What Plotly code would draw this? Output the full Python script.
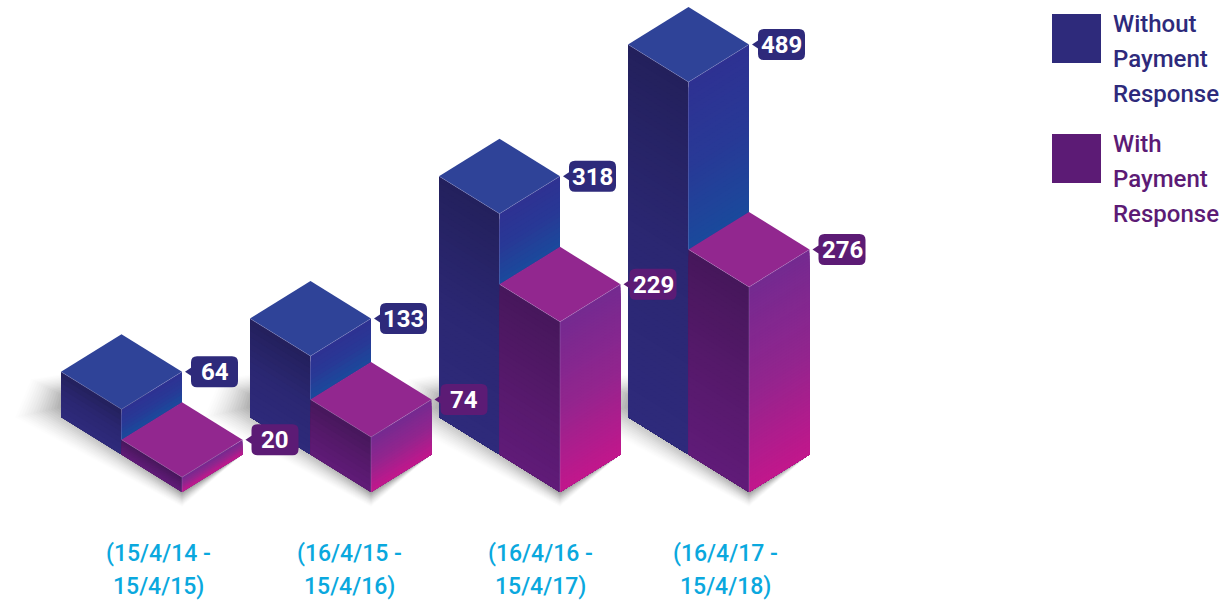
import plotly.graph_objects as go

categories = ["(15/4/14 -<br>15/4/15)", "(16/4/15 -<br>15/4/16)", "(16/4/16 -<br>15/4/17)", "(16/4/17 -<br>15/4/18)"]
without_response = [64, 133, 318, 489]
with_response = [20, 74, 229, 276]
series_names = ["Without<br>Payment<br>Response", "With<br>Payment<br>Response"]

# isometric layout
STEP, FIRST_X, GROUND = 189, 182, 108
HW, HD = 60.5, 37.5
LABEL_X = [158.5, 349.5, 540, 725.5]
BLUE, PURPLE, CYAN = "#2e2a7b", "#5c1b75", "#0aa8de"
FONT = "Roboto"


def blue_height(v):
    return 0.77 * v - 4


def purple_height(v):
    return 0.743 * v


def mix(stops, t):
    t = max(0, min(1, t))
    n = len(stops) - 1
    i = min(int(t * n), n - 1)
    f = t * n - i
    a, b = stops[i], stops[i + 1]
    return "rgb(%d,%d,%d)" % tuple(round(a[j] + (b[j] - a[j]) * f) for j in range(3))


fig = go.Figure()


def poly(xs, ys, color, name=None):
    fig.add_trace(go.Scatter(x=xs + xs[:1], y=ys + ys[:1], mode="lines", fill="toself", fillcolor=color,
                             line=dict(width=0), hoverinfo="skip", showlegend=False, name=name))


def face(fx, gy, side, top, bottom, stops, px):
    """Side face sheared along its ground edge; gradient follows the shear."""
    n = max(8, round((top - bottom) / px))
    span = top - bottom
    x0, x1 = (fx, fx + HW) if side > 0 else (fx - HW, fx)
    y0_off, y1_off = (0, HD) if side > 0 else (HD, 0)
    for k in range(n):
        lvl = top - span * k / n
        poly([x0, x1, x1, x0], [gy + y0_off + lvl, gy + y1_off + lvl, gy + y1_off + bottom, gy + y0_off + bottom],
             mix(stops, (k + 0.5) / n))


def top_face(fx, gy, h, color, name):
    y = gy + h
    poly([fx - HW, fx, fx + HW, fx], [y + HD, y + 2 * HD, y + HD, y], color, name)


def edges(fx, gy, h, bottom):
    y = gy + h
    fig.add_trace(go.Scatter(x=[fx - HW, fx, fx + HW, None, fx, fx], y=[y + HD, y, y + HD, None, y, gy + bottom],
                             mode="lines", line=dict(width=0.6, color="rgba(190,180,225,0.38)"),
                             hoverinfo="skip", showlegend=False))


# soft ground shadows: stacked translucent outlines, wider towards the left
LAYERS = 18
for i in range(len(categories)):
    fx = FIRST_X + STEP * i
    for k in range(LAYERS, 0, -1):
        u = k / LAYERS
        g = 15 * u            # outward spread
        lx = fx - 2 * HW + 8 - 54 * u
        c = 4 + 20 * u        # bluntness of the left end
        yc = GROUND + 89
        poly([lx, fx, fx + HW, fx - HW, lx + 16 * u],
             [yc - 0.6 * c, GROUND - g, GROUND + HD, GROUND + 3 * HD + g, yc + c],
             "rgba(0,0,0,%.3f)" % (0.008 + 0.034 * (1 - u)))

BL = [(0x23, 0x20, 0x5c), (0x2b, 0x27, 0x72), (0x2e, 0x2a, 0x7b)]
BR = [(0x2e, 0x31, 0x92), (0x28, 0x39, 0x96), (0x1a, 0x4a, 0x9c)]
PL = [(0x46, 0x17, 0x5b), (0x55, 0x19, 0x6a), (0x60, 0x1b, 0x78)]
PR = [(0x74, 0x2a, 0x90), (0x92, 0x25, 0x8e), (0xc2, 0x17, 0x8c)]

for i in range(len(categories)):
    fx = FIRST_X + STEP * i
    hb, hp = blue_height(without_response[i]), purple_height(with_response[i])
    bx, by = fx - HW, GROUND + HD
    face(bx, by, -1, hb, 0, BL, 6)
    face(bx, by, 1, hb, hp, BR, 5)
    top_face(bx, by, hb, "#2f4398", "Without Payment Response")
    edges(bx, by, hb, hp)
    face(fx, GROUND, -1, hp, 0, PL, 6)
    face(fx, GROUND, 1, hp, 0, PR, 3)
    top_face(fx, GROUND, hp, "#92278f", "With Payment Response")
    edges(fx, GROUND, hp, 0)


def callout(tip_x, y, text, color):
    W, H, r = 47, 31, 6
    xl = tip_x + 6
    xr, yb, yt = xl + W, y - H / 2, y + H / 2
    c = f"M{xl+r},{yt} L{xr-r},{yt} Q{xr},{yt} {xr},{yt-r} L{xr},{yb+r} Q{xr},{yb} {xr-r},{yb} " \
        f"L{xl+r},{yb} Q{xl},{yb} {xl},{yb+r} L{xl},{y-4} L{tip_x},{y} L{xl},{y+4} L{xl},{yt-r} Q{xl},{yt} {xl+r},{yt} Z"
    fig.add_shape(type="path", path=c, fillcolor=color, line=dict(width=0), xref="x", yref="y", layer="above")
    fig.add_annotation(x=xl + W / 2, y=y - 0.5, text=text, showarrow=False, xanchor="center", yanchor="middle",
                       font=dict(family=FONT, size=24, color="white", weight=700))


for i in range(len(categories)):
    fx = FIRST_X + STEP * i
    callout(fx + 3, GROUND + 2 * HD + blue_height(without_response[i]), str(without_response[i]), BLUE)
    callout(fx + HW + 3, GROUND + HD + purple_height(with_response[i]), str(with_response[i]), PURPLE)
    for j, line in enumerate(categories[i].split("<br>")):
        fig.add_annotation(x=LABEL_X[i], y=600 - 553.5 - 33 * j, text=line, showarrow=False, xanchor="center",
                           yanchor="middle", font=dict(family=FONT, size=23, color=CYAN, weight=500))

# legend
for k, (name, color) in enumerate(zip(series_names, [BLUE, PURPLE])):
    y0 = 600 - 14 - 120 * k
    poly([1052, 1101, 1101, 1052], [y0, y0, y0 - 49, y0 - 49], color)
    for j, line in enumerate(name.split("<br>")):
        fig.add_annotation(x=1111, y=y0 - 10 - 35 * j, text=line, showarrow=False, xanchor="left", yanchor="middle",
                           font=dict(family=FONT, size=24, color=color, weight=500))

fig.update_layout(width=1228, height=600, margin=dict(l=0, r=0, t=0, b=0), paper_bgcolor="white",
                  plot_bgcolor="white", showlegend=False,
                  xaxis=dict(range=[0, 1228], visible=False, fixedrange=True),
                  yaxis=dict(range=[0, 600], visible=False, fixedrange=True))
fig.write_html("out.html", config=dict(displayModeBar=False),
               post_script="document.body.style.margin='0';document.body.style.overflow='hidden';")
